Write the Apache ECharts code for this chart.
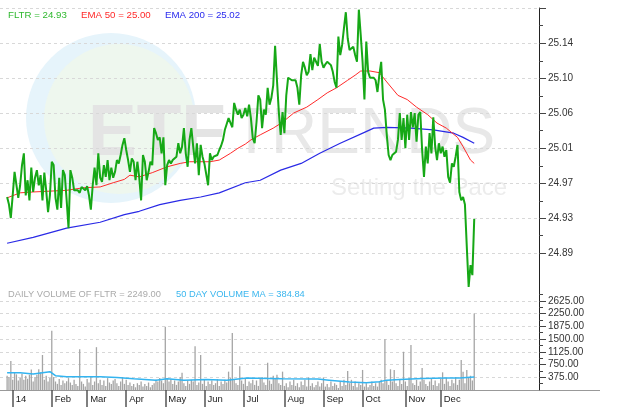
<!DOCTYPE html>
<html><head><meta charset="utf-8">
<script src="https://cdn.jsdelivr.net/npm/echarts@6/dist/echarts.min.js"></script>
<style>html,body{margin:0;padding:0;background:#fff}#c{width:640px;height:418px}</style>
</head><body><div id="c"></div>
<script>
// ---- data (trading-day index 0 = first trading day of 2014) ----
const startIndex = -3;
const fltr = [
24.956,24.947,24.931,24.958,24.986,24.987,24.955,24.970,24.994,25.008,
24.958,24.976,24.952,24.991,24.962,24.979,24.988,24.970,24.982,24.952,
24.985,24.964,24.938,24.958,24.998,24.994,24.955,24.941,24.979,24.943,
24.988,24.982,24.952,24.919,24.988,24.979,24.964,24.962,24.964,24.961,
24.968,24.969,24.964,24.969,24.958,24.941,24.970,24.991,24.970,25.008,
24.979,24.974,24.994,24.980,25.000,24.976,24.991,24.979,24.986,25.000,
24.996,25.006,25.018,25.026,25.012,25.000,24.986,25.002,24.998,24.976,
24.998,24.979,24.952,25.006,24.998,24.976,24.986,24.998,24.994,25.038,
25.032,25.024,25.027,25.008,25.027,24.970,24.994,25.000,24.996,25.000,
24.998,25.004,25.020,25.008,25.016,25.038,25.008,24.992,25.024,25.038,
25.016,24.996,25.020,24.982,25.018,25.004,24.996,24.994,24.970,25.008,
25.000,25.004,25.004,25.006,25.012,25.017,25.024,25.036,25.043,25.050,
25.048,25.039,25.068,25.060,25.054,25.060,25.050,25.054,25.062,25.052,
25.066,25.050,25.026,25.020,25.045,25.077,25.072,25.038,25.060,25.054,
25.086,25.066,25.074,25.089,25.136,25.095,25.057,25.030,25.057,25.032,
25.077,25.098,25.099,25.095,25.093,25.095,25.086,25.066,25.101,25.117,
25.110,25.101,25.105,25.126,25.107,25.122,25.117,25.112,25.138,25.117,
25.110,25.114,25.117,25.119,25.113,25.105,25.093,25.086,25.147,25.125,
25.137,25.157,25.176,25.145,25.131,25.131,25.135,25.125,25.117,25.179,
25.149,25.117,25.072,25.141,25.105,25.098,25.100,25.098,25.095,25.081,
25.101,25.117,25.072,25.060,25.030,25.006,25.000,25.006,25.007,25.010,
25.024,25.056,25.024,25.050,25.014,25.054,25.024,25.057,25.039,25.056,
25.022,25.054,25.057,25.012,24.980,25.016,24.996,25.032,25.008,25.051,
25.016,25.000,25.020,25.008,25.016,25.004,25.012,24.980,24.973,24.996,
24.992,25.004,25.018,24.962,24.952,24.956,24.947,24.897,24.849,24.875,
24.863,24.930
];
const ema50 = [
[-3,24.955],[4,24.961],[11,24.962],[20,24.963],[29,24.964],[38,24.967],[47,24.968],
[54,24.973],[60,24.977],[63,24.982],[68,24.980],[75,24.985],[83,24.992],[90,24.996],
[95,24.998],[106,24.998],[111,25.000],[117,25.008],[121,25.014],[125,25.019],[128,25.024],
[133,25.030],[140,25.038],[145,25.045],[151,25.056],[158,25.063],[164,25.072],[169,25.080],
[174,25.086],[180,25.095],[184,25.101],[187,25.106],[192,25.106],[197,25.104],[201,25.093],
[207,25.077],[212,25.072],[217,25.063],[223,25.054],[228,25.044],[233,25.038],[239,25.027],
[242,25.016],[246,25.000],[248,24.996]
];
const ema200 = [
[-3,24.901],[11,24.908],[29,24.919],[47,24.926],[60,24.935],[68,24.939],[79,24.947],
[90,24.952],[101,24.956],[111,24.961],[125,24.973],[133,24.976],[144,24.988],[155,24.996],
[165,25.008],[176,25.020],[189,25.033],[194,25.038],[201,25.039],[214,25.038],[226,25.036],
[237,25.032],[242,25.027],[248,25.020]
];
const volume = [
420,380,850,300,520,460,280,350,480,300,420,330,450,600,250,380,450,610,520,1030,
300,420,250,350,1740,380,250,180,320,150,280,200,260,350,220,150,300,180,120,1200,
250,180,100,320,220,380,150,250,1260,200,300,150,280,120,350,220,180,280,320,200,
120,250,380,180,300,150,220,120,180,80,200,150,250,100,180,120,220,80,150,200,
300,250,350,280,200,1860,350,250,320,180,280,150,250,380,510,200,120,280,180,300,
250,1290,150,220,1030,180,300,120,250,180,280,150,200,320,120,250,180,300,220,540,
350,1680,300,200,150,700,280,180,350,120,250,200,300,150,280,120,350,380,220,150,
800,280,180,420,350,450,200,150,540,120,200,80,250,150,300,120,200,80,250,150,
300,100,370,120,200,80,150,250,100,200,370,100,180,80,250,120,200,150,60,250,
120,300,150,560,200,300,120,250,80,200,150,590,100,200,80,150,250,120,200,100,
250,300,200,1490,280,150,610,250,590,200,120,300,180,1125,250,120,350,1320,200,150,
300,120,250,650,300,180,120,250,350,150,280,120,200,320,520,180,350,250,120,300,
200,380,150,300,880,540,200,590,350,420,280,2249
];
const volumeMA = [
[-3,510],[4,510],[11,470],[16,510],[20,540],[23,420],[29,390],[47,390],[56,370],[65,330],
[77,290],[83,330],[92,290],[104,310],[115,290],[126,350],[137,340],[145,330],[164,320],
[170,290],[181,235],[190,215],[197,245],[201,290],[208,310],[220,340],[233,350],[240,350],
[244,370],[248,385]
];
const monthStarts = [0,21,40,61,82,103,124,146,167,188,211,230];
const monthLabels = ['14','Feb','Mar','Apr','May','Jun','Jul','Aug','Sep','Oct','Nov','Dec'];
const priceTicks = [24.889,24.931,24.972,25.014,25.056,25.097,25.139];
const priceTickLabels = ['24.89','24.93','24.97','25.01','25.06','25.10','25.14'];
const priceMinorTicks = [24.910,24.951,24.993,25.035,25.076,25.118,25.160];
const volumeTicks = [375,750,1125,1500,1875,2250,2625];
const volumeMinorTicks = [187.5,562.5,937.5,1312.5,1687.5,2062.5,2437.5,2812.5];

// ---- chart ----
const priceMin = 24.8477, priceMax = 25.181;
const xMin = -6.82, xMax = 282.8;
const FONT = '"Liberation Sans", Arial, sans-serif';

const chart = echarts.init(document.getElementById('c'), null, {renderer: 'canvas'});
const dash = {color: '#d8d8d8', type: [3, 3], width: 1};

chart.setOption({
  animation: false,
  backgroundColor: '#fff',
  textStyle: {fontFamily: FONT},
  grid: [
    {left: 0, right: 101, top: 8, height: 280},
    {left: 0, right: 101, top: 288, height: 102}
  ],
  xAxis: [
    {gridIndex: 0, type: 'value', min: xMin, max: xMax, show: false},
    {gridIndex: 1, type: 'value', min: xMin, max: xMax,
      axisLine: {show: true, onZero: false, lineStyle: {color: '#999', width: 1}},
      axisTick: {show: true, customValues: monthStarts, length: 17, lineStyle: {color: '#555', width: 1.5}},
      axisLabel: {show: true, customValues: monthStarts, align: 'left', margin: 4, padding: [0,0,0,3],
        color: '#222', fontSize: 9.5, fontFamily: FONT,
        formatter: v => monthLabels[monthStarts.indexOf(v)] || ''},
      splitLine: {show: false}}
  ],
  yAxis: [
    {gridIndex: 0, type: 'value', position: 'right', min: priceMin, max: priceMax,
      axisLine: {show: true, onZero: false, lineStyle: {color: '#222', width: 1}},
      axisTick: {show: true, customValues: priceTicks.concat([priceMax]), length: 7, lineStyle: {color: '#444'}},
      axisLabel: {show: true, customValues: priceTicks, margin: 9, color: '#333', fontSize: 10, fontFamily: FONT,
        formatter: v => priceTickLabels[priceTicks.indexOf(v)] || ''},
      splitLine: {show: true, lineStyle: dash}},
    {gridIndex: 0, type: 'value', position: 'right', min: priceMin, max: priceMax,
      axisLine: {show: false, onZero: false},
      axisTick: {show: true, customValues: priceMinorTicks, length: 4, lineStyle: {color: '#444'}},
      axisLabel: {show: false}, splitLine: {show: false}},
    {gridIndex: 1, type: 'value', position: 'right', min: 0, max: 3000,
      axisLine: {show: true, onZero: false, lineStyle: {color: '#222', width: 1}},
      axisTick: {show: true, customValues: volumeTicks, length: 7, lineStyle: {color: '#444'}},
      axisLabel: {show: true, customValues: volumeTicks, margin: 9, color: '#333', fontSize: 10, fontFamily: FONT,
        formatter: v => v.toFixed(2)},
      splitLine: {show: true, lineStyle: dash}},
    {gridIndex: 1, type: 'value', position: 'right', min: 0, max: 3000,
      axisLine: {show: false, onZero: false},
      axisTick: {show: true, customValues: volumeMinorTicks, length: 4, lineStyle: {color: '#444'}},
      axisLabel: {show: false}, splitLine: {show: false}}
  ],
  graphic: [
    {type: 'circle', z: -10, shape: {cx: 111, cy: 118, r: 85}, style: {fill: '#e6f4fb'}, silent: true},
    {type: 'circle', z: -10, shape: {cx: 119, cy: 119, r: 75}, style: {fill: '#eef7ee'}, silent: true},
    {type: 'text', z: -9, x: 88, y: 135, silent: true,
      style: {text: 'ETF', fill: '#e4e4e4', font: 'bold 73px ' + FONT, verticalAlign: 'middle'}},
    {type: 'text', z: -9, x: 232, y: 135, silent: true,
      style: {text: 'TRENDS', fill: '#e8e8e8', font: '64px ' + FONT, verticalAlign: 'middle'}},
    {type: 'text', z: -9, x: 331, y: 188, silent: true,
      style: {text: 'Setting the Pace', fill: '#ececec', font: '24px ' + FONT, verticalAlign: 'middle'}},
    {type: 'text', x: 8, y: 15, style: {text: 'FLTR = 24.93', fill: '#2eb82e', font: '9.7px ' + FONT, verticalAlign: 'middle'}},
    {type: 'text', x: 81, y: 15, style: {text: 'EMA 50 = 25.00', fill: '#ff2a2a', font: '9.7px ' + FONT, verticalAlign: 'middle'}},
    {type: 'text', x: 165, y: 15, style: {text: 'EMA 200 = 25.02', fill: '#2a2aee', font: '9.7px ' + FONT, verticalAlign: 'middle'}},
    {type: 'text', x: 8, y: 294, style: {text: 'DAILY VOLUME OF FLTR = 2249.00', fill: '#aaaaaa', font: '9.3px ' + FONT, verticalAlign: 'middle'}},
    {type: 'text', x: 176, y: 294, style: {text: '50 DAY VOLUME MA = 384.84', fill: '#3ab6ee', font: '9.3px ' + FONT, verticalAlign: 'middle'}},
    {type: 'line', shape: {x1: 539, y1: 390.5, x2: 600, y2: 390.5}, style: {stroke: '#999', lineWidth: 1}, silent: true}
  ],
  series: [
    {name: 'EMA 200', type: 'line', xAxisIndex: 0, yAxisIndex: 0, data: ema200, symbol: 'none',
      lineStyle: {color: '#2a2ae6', width: 1.2}, z: 2},
    {name: 'EMA 50', type: 'line', xAxisIndex: 0, yAxisIndex: 0, data: ema50, symbol: 'none',
      lineStyle: {color: '#ff2a2a', width: 1}, z: 2},
    {name: 'FLTR', type: 'line', xAxisIndex: 0, yAxisIndex: 0,
      data: fltr.map((v, k) => [startIndex + k, v]), symbol: 'none',
      lineStyle: {color: '#16a816', width: 2}, z: 3},
    {name: 'Volume', type: 'bar', xAxisIndex: 1, yAxisIndex: 2,
      data: volume.map((v, k) => [startIndex + k, v]), barWidth: 1.3,
      itemStyle: {color: '#a5a5a5'}, z: 2},
    {name: 'Volume MA', type: 'line', xAxisIndex: 1, yAxisIndex: 2, data: volumeMA, symbol: 'none',
      lineStyle: {color: '#33b4f0', width: 1.5}, z: 3}
  ]
});
</script></body></html>
